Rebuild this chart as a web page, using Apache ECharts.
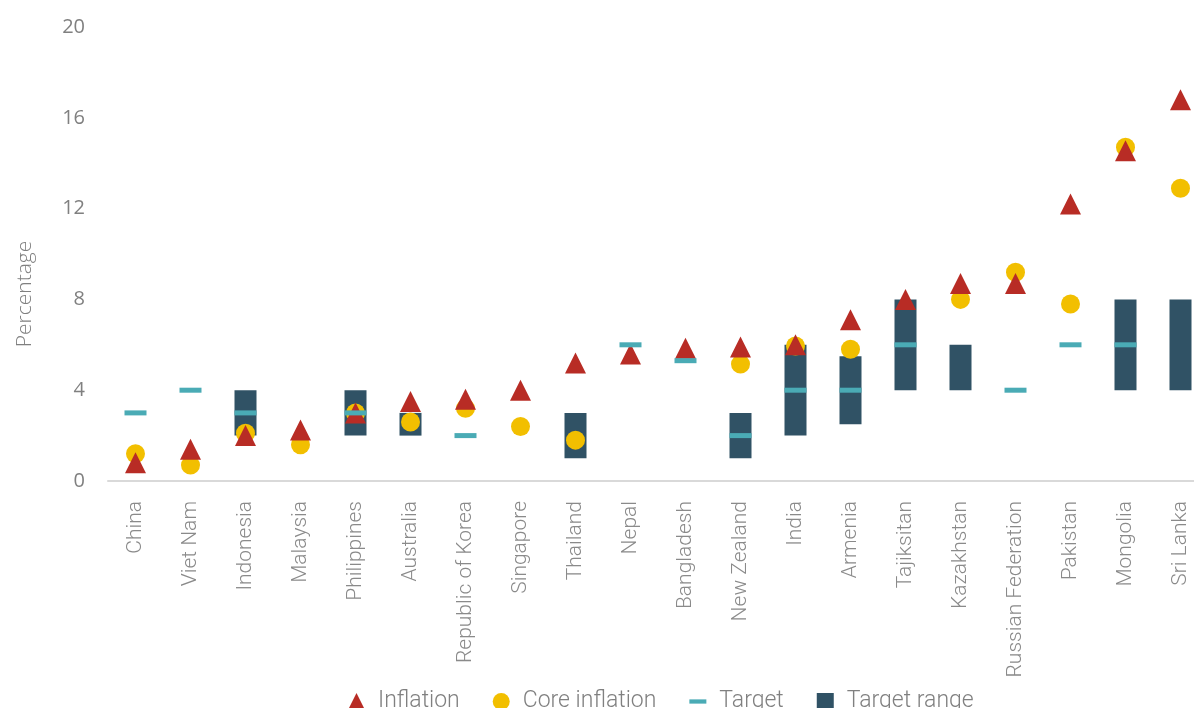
<!DOCTYPE html>
<html>
<head>
<meta charset="utf-8">
<script src="https://cdn.jsdelivr.net/npm/echarts@6/dist/echarts.min.js"></script>
<style>
  html, body { margin: 0; padding: 0; background: #fff; }
  #chart { width: 1194px; height: 708px; }
</style>
</head>
<body>
<div id="chart"></div>
<script>
'use strict';

// categories (sorted by inflation)
const arrCountry = ['China', 'Viet Nam', 'Indonesia', 'Malaysia', 'Philippines', 'Australia',
    'Republic of Korea', 'Singapore', 'Thailand', 'Nepal', 'Bangladesh', 'New Zealand', 'India',
    'Armenia', 'Tajiksitan', 'Kazakhstan', 'Russian Federation', 'Pakistan', 'Mongolia', 'Sri Lanka'];

const arrInflation = [0.8, 1.4, 2.0, 2.25, 3.0, 3.5, 3.6, 4.0, 5.2, 5.6, 5.85, 5.9, 6.0, 7.1, 8.0, 8.7, 8.7, 12.2, 14.55, 16.8];
const arrCore = [1.2, 0.7, 2.1, 1.6, 3.0, 2.6, 3.2, 2.4, 1.8, null, null, 5.15, 5.95, 5.8, null, 8.0, 9.2, 7.8, 14.7, 12.9];
const arrTarget = [3, 4, 3, null, 3, null, 2, null, null, 6, 5.3, 2, 4, 4, 6, null, 4, 6, 6, null];
const arrRangeLow = [null, null, 2, null, 2, 2, null, null, 1, null, null, 1, 2, 2.5, 4, 4, null, null, 4, 4];
const arrRangeHigh = [null, null, 4, null, 4, 3, null, null, 3, null, null, 3, 6, 5.5, 8, 6, null, null, 8, 8];

const arrYTicks = [0, 4, 8, 12, 16, 20];

// stacked bar: invisible base + visible span
const arrRangeSpan = arrRangeLow.map((lo, i) => (lo === null ? null : arrRangeHigh[i] - lo));

const chart = echarts.init(document.getElementById('chart'));

const colGrey = '#808080';

const option = {
    animation: false,
    grid: {
        left: 108,
        width: 1100,
        top: 27,
        bottom: 227,
        outerBoundsMode: 'none'
    },
    legend: {
        left: 343,
        top: 685,
        itemWidth: 17,
        itemHeight: 17,
        itemGap: 33,
        textStyle: {
            fontFamily: 'Roboto',
            fontWeight: 300,
            fontSize: 23,
            color: colGrey,
            padding: [0, 0, 0, 8]
        },
        data: [
            { name: 'Inflation', icon: 'triangle' },
            { name: 'Core inflation', icon: 'circle' },
            { name: 'Target', icon: 'path://M0,0H20V5H0Z' },
            { name: 'Target range', icon: 'rect' }
        ]
    },
    xAxis: {
        type: 'category',
        data: arrCountry,
        axisLine: { lineStyle: { color: '#d9d9d9', width: 2 } },
        axisTick: { show: false },
        axisLabel: {
            rotate: 90,
            interval: 0,
            margin: 20,
            fontFamily: 'Roboto',
            fontWeight: 300,
            fontSize: 21,
            color: '#8a8a8a'
        }
    },
    yAxis: {
        type: 'value',
        min: arrYTicks[0],
        max: arrYTicks[arrYTicks.length - 1],
        interval: 4,
        name: 'Percentage',
        nameLocation: 'middle',
        nameGap: 72,
        nameTextStyle: {
            fontFamily: 'Open Sans',
            fontWeight: 300,
            fontSize: 21,
            color: colGrey,
            padding: [0, 80, 0, 0]
        },
        axisLine: { show: false },
        axisTick: { show: false },
        splitLine: { show: false },
        axisLabel: {
            margin: 23,
            fontFamily: 'Open Sans',
            fontSize: 20,
            color: colGrey
        }
    },
    series: [
        {
            name: 'rangeBase',
            type: 'bar',
            stack: 'range',
            barWidth: 22,
            silent: true,
            itemStyle: { color: 'transparent' },
            data: arrRangeLow
        },
        {
            name: 'Target range',
            type: 'bar',
            stack: 'range',
            barWidth: 22,
            itemStyle: { color: '#305265' },
            data: arrRangeSpan
        },
        {
            name: 'Core inflation',
            type: 'scatter',
            symbol: 'circle',
            symbolSize: 19,
            itemStyle: { color: '#f2bf00', opacity: 1 },
            z: 3,
            data: arrCore
        },
        {
            name: 'Inflation',
            type: 'scatter',
            symbol: 'triangle',
            symbolSize: 21,
            itemStyle: { color: '#b82c25', opacity: 1 },
            z: 4,
            data: arrInflation
        },
        {
            name: 'Target',
            type: 'scatter',
            symbol: 'rect',
            symbolSize: [22, 5],
            itemStyle: { color: '#4aabb5', opacity: 1 },
            z: 5,
            data: arrTarget
        }
    ]
};

chart.setOption(option);
</script>
</body>
</html>
